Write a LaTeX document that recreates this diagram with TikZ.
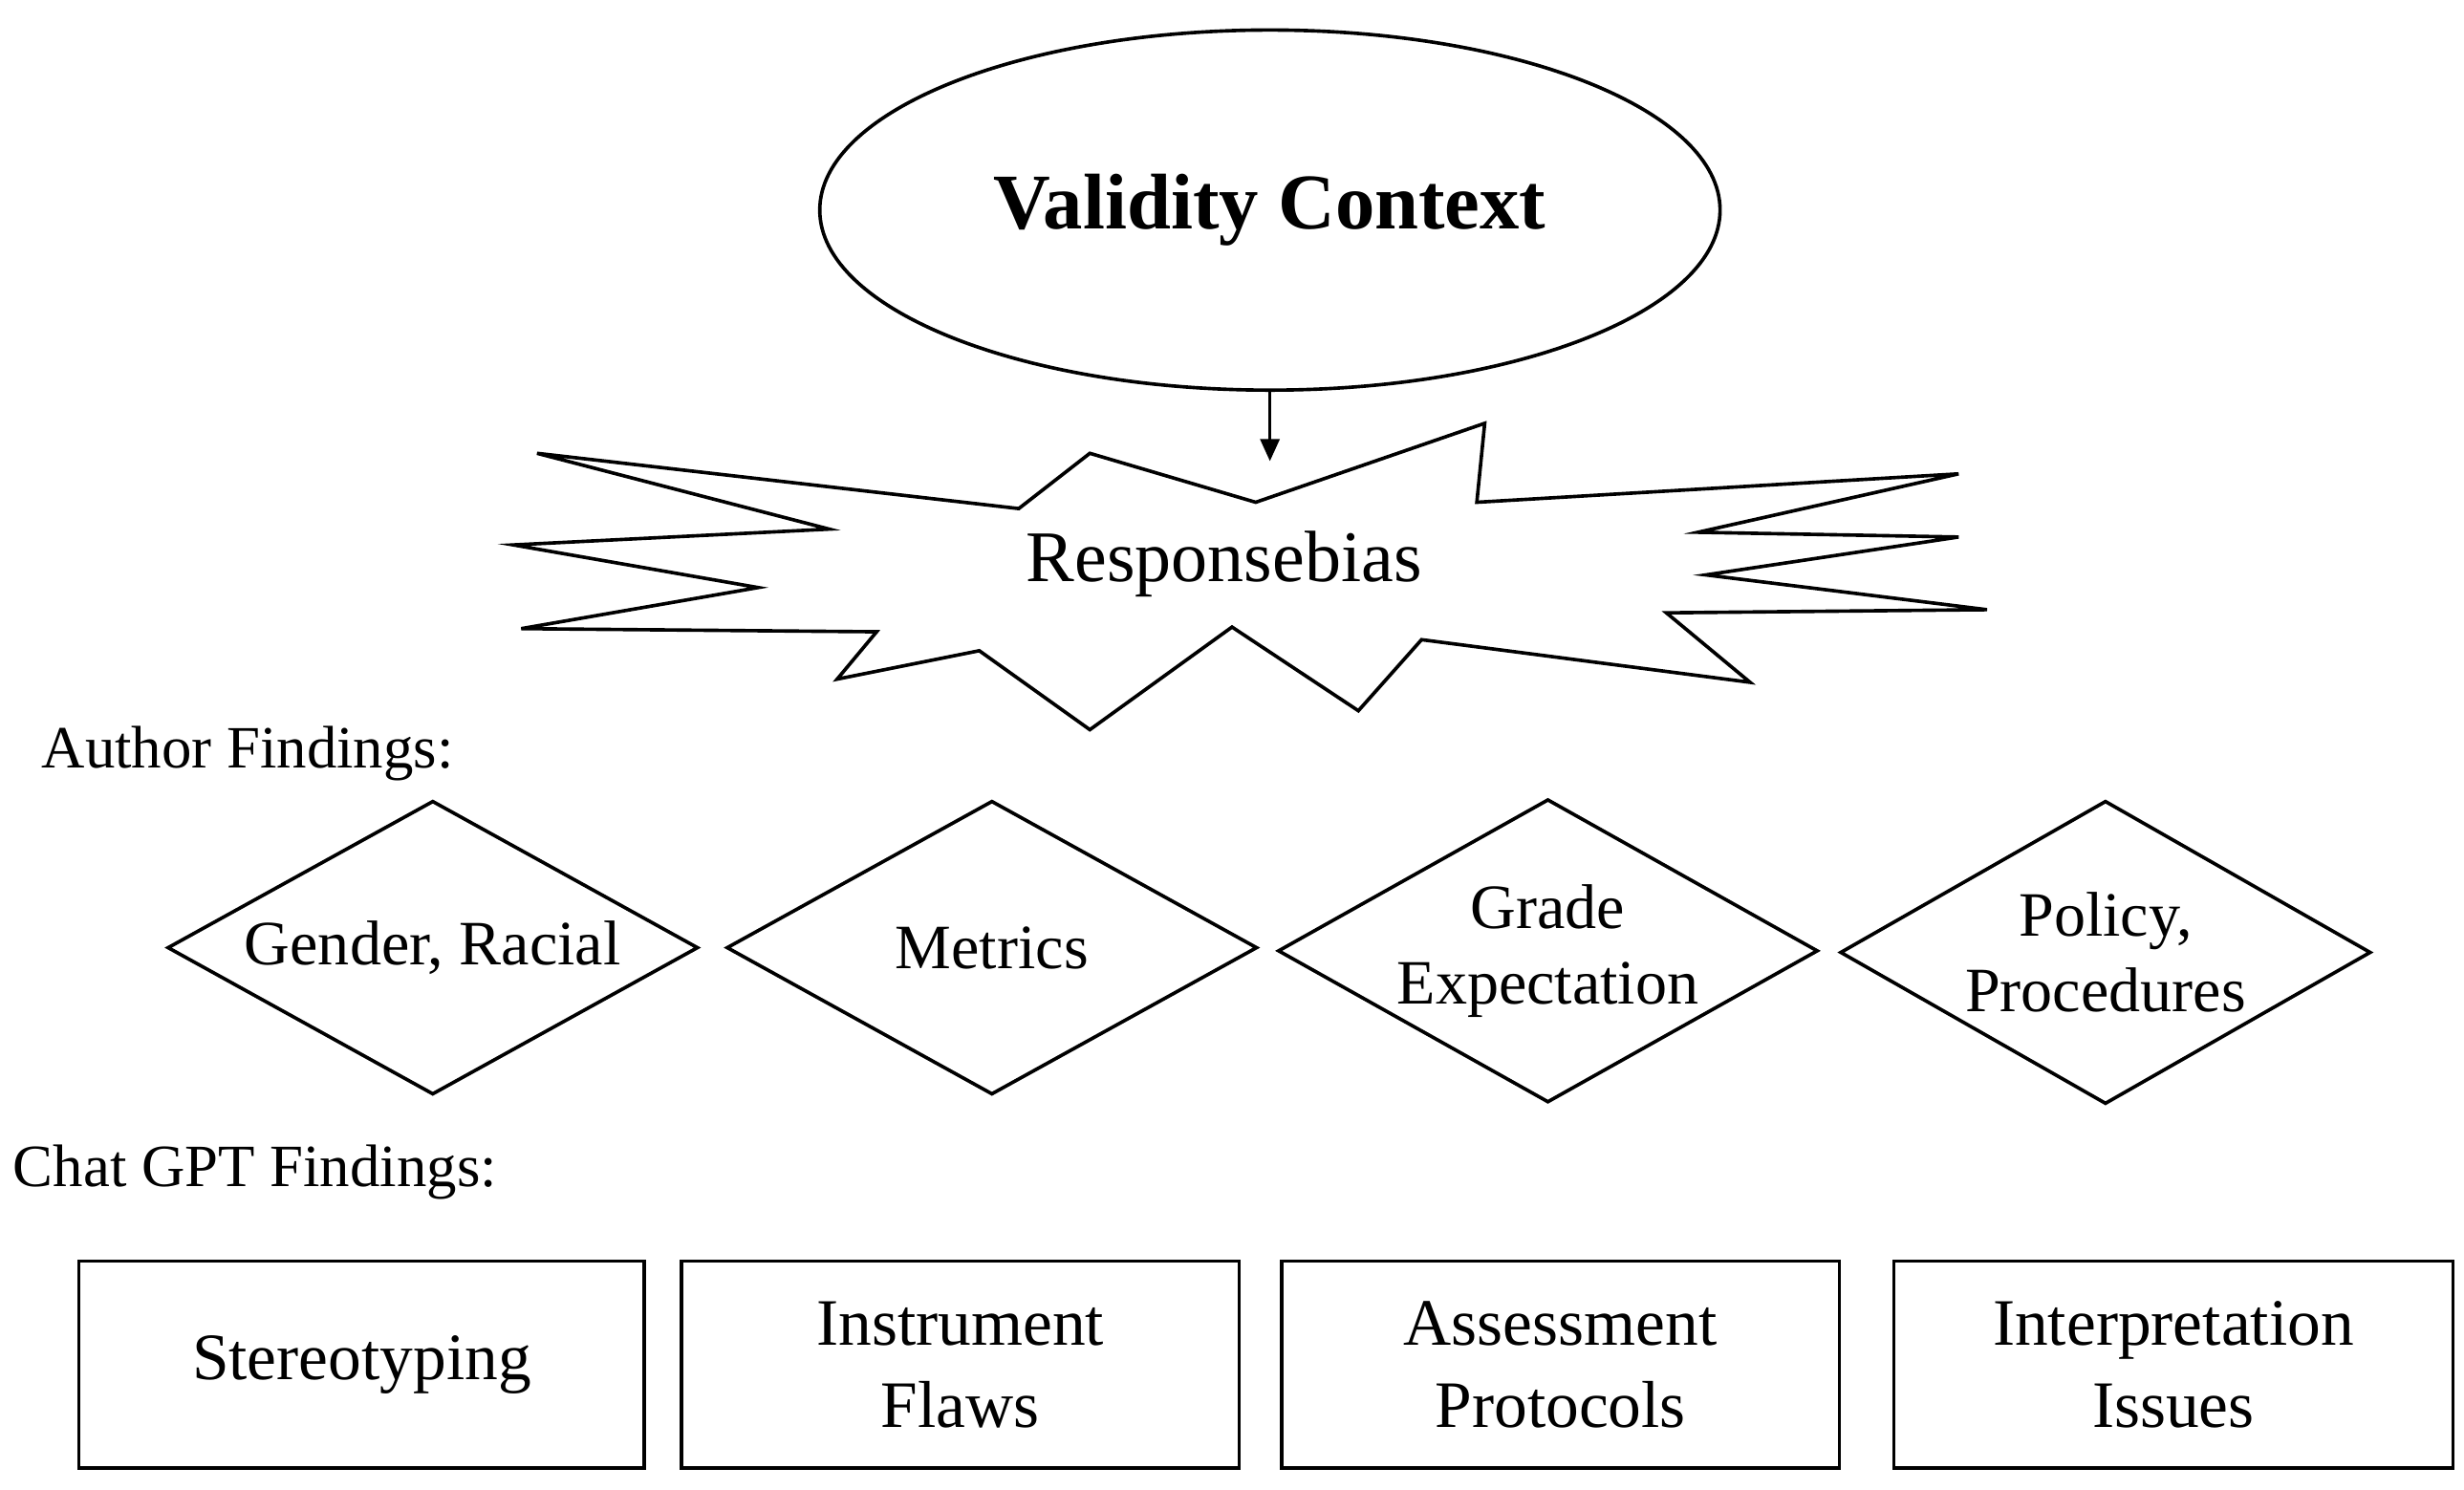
\documentclass[tikz,border=0pt]{standalone}
\usepackage{fontspec}
\setmainfont{Liberation Serif}
\usetikzlibrary{shapes.geometric,arrows.meta}
\begin{document}
\begin{tikzpicture}[x=1pt,y=-1pt,
  line width=2.2pt,
  dia/.style={draw,diamond,aspect=1.79,minimum width=336pt,minimum height=186pt,inner sep=0pt,align=center,font=\fontsize{40}{48}\selectfont},
  box/.style={draw,minimum width=356pt,minimum height=131pt,align=center,font=\fontsize{42}{52}\selectfont},
  lab/.style={anchor=west,font=\fontsize{38}{44}\selectfont}]
\useasboundingbox (0,0) rectangle (1560,943);
\node[draw,ellipse,minimum width=570pt,minimum height=228pt,font=\bfseries\fontsize{50}{54}\selectfont] (vc) at (804,133) {Validity\ Context};
\draw[fill=white] (340,287) -- (645,322) -- (690,287) -- (795,318) -- (940,268) -- (935,318) -- (1240,300) -- (1075,337) -- (1240,340) -- (1080,364) -- (1258,386) -- (1055,388) -- (1108,432) -- (900,405) -- (860,450) -- (780,397) -- (690,462) -- (620,412) -- (530,430) -- (555,400) -- (330,398) -- (480,372) -- (325,345) -- (525,335) -- cycle;
\node[font=\fontsize{46}{50}\selectfont] (rb) at (775,357) {Responsebias};
\coordinate (rt) at (804,292);
\draw[-{Triangle[length=14pt,width=12pt]}] (vc.south) -- (rt);
\node[lab] (af) at (22,477) {Author Findings:};
\node[dia] (d1) at (274,600) {Gender, Racial};
\node[dia] (d2) at (628,600) {Metrics};
\node[dia,minimum height=192pt] (d3) at (980,602) {Grade\\Expectation};
\node[dia,minimum height=192pt] (d4) at (1333,603) {Policy,\\Procedures};
\node[lab] (cg) at (4,742) {Chat GPT Findings:};
\node[box,minimum width=358pt] (b1) at (229,864) {Stereotyping};
\node[box,minimum width=353pt] (b2) at (608,864) {Instrument\\Flaws};
\node[box,minimum width=353pt] (b3) at (988,864) {Assessment\\Protocols};
\node[box,minimum width=354pt] (b4) at (1376,864) {Interpretation\\Issues};
\end{tikzpicture}
\end{document}
